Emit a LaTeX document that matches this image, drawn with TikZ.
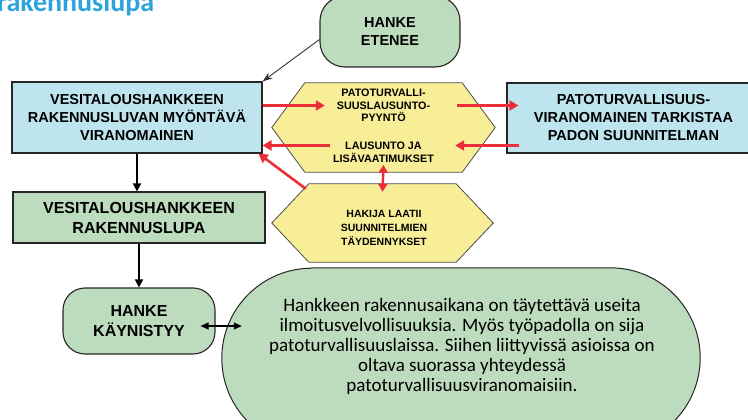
\documentclass[tikz,border=0pt]{standalone}
\usepackage{fontspec}
\setmainfont{Liberation Sans}
\newfontfamily\carl{Carlito}
\usetikzlibrary{arrows.meta,backgrounds,calc}
\definecolor{boxgreen}{RGB}{189,220,190}
\definecolor{boxblue}{RGB}{190,228,238}
\definecolor{hexyellow}{RGB}{249,238,152}
\definecolor{arrred}{RGB}{236,46,56}
\definecolor{titleblue}{RGB}{44,163,221}
\begin{document}
\begin{tikzpicture}[x=1pt,y=-1pt,
  box/.style={draw=black!85, line width=1.1pt, font=\bfseries\fontsize{14.5}{18}\selectfont, align=center, inner sep=0pt},
  bluebox/.style={box, fill=boxblue},
  greenbox/.style={box, fill=boxgreen},
  roundbox/.style={greenbox, rounded corners=22pt},
  bigfont/.style={font=\bfseries\fontsize{16}{20}\selectfont},
  hexframe/.style={inner sep=0pt},
  hexshape/.style={fill=hexyellow, draw=black!70, line width=0.8pt},
  hextext/.style={font=\bfseries\fontsize{10.8}{12.5}\selectfont, align=center, inner sep=1pt},
  stadium/.style={fill=boxgreen, draw=black!85, line width=1pt},
  redarrow/.style={draw=arrred, line width=2.6pt, -{Triangle[length=9pt,width=10pt]}},
  redboth/.style={draw=arrred, line width=2.4pt, {Triangle[length=8pt,width=9pt]}-{Triangle[length=8pt,width=9pt]}},
  blackarrow/.style={draw=black, line width=1.8pt, -{Triangle[length=8pt,width=8pt]}},
  thinarrow/.style={draw=black!80, line width=0.9pt, -{Stealth[length=10pt,width=7pt]}},
  dblarrow/.style={draw=black, line width=1.2pt, {Triangle[length=8pt,width=7pt]}-{Triangle[length=8pt,width=7pt]}},
  thinline/.style={draw=black!80, line width=0.9pt}
]
\useasboundingbox (0,0) rectangle (748,420);

% title (cut off by page edge)
\node[font=\carl\bfseries\fontsize{28}{28}\selectfont, text=titleblue, anchor=base west, inner sep=0pt] (title) at (-3,11.5) {rakennuslupa};

% nodes
\node[greenbox, rounded corners=25pt, minimum width=140pt, minimum height=71pt] (ete) at (390,31.5) {HANKE\\ETENEE};
\coordinate (abovete) at (387,-20);

\node[bluebox, minimum width=250pt, minimum height=71pt] (ves1) at (137,117.5) {VESITALOUSHANKKEEN\\RAKENNUSLUVAN MYÖNTÄVÄ\\VIRANOMAINEN};
\node[bluebox, minimum width=253pt, minimum height=70pt] (bl2) at (633.5,118) {PATOTURVALLISUUS-\\VIRANOMAINEN TARKISTAA\\PADON SUUNNITELMAN};

\node[hexframe, minimum width=223pt, minimum height=89pt] (h1) at (383.5,127.5) {};
\node[hextext] (h1a) at (383.5,105.5) {PATOTURVALLI-\\SUUSLAUSUNTO-\\PYYNTÖ};
\node[hextext] (h1b) at (383.5,152.5) {LAUSUNTO JA\\LISÄVAATIMUKSET};

\node[hexframe, minimum width=221pt, minimum height=78pt] (h2) at (382.5,223) {};
\node[hextext, font=\bfseries\fontsize{10.5}{14}\selectfont] (h2t) at (384,228) {HAKIJA LAATII\\SUUNNITELMIEN\\TÄYDENNYKSET};

\node[greenbox, bigfont, minimum width=252pt, minimum height=51pt] (ves2) at (139,217.5) {VESITALOUSHANKKEEN\\RAKENNUSLUPA};
\node[roundbox, bigfont, minimum width=152pt, minimum height=66pt] (kay) at (139,321) {HANKE\\KÄYNISTYY};

\node[inner sep=0pt, minimum width=478pt, minimum height=180pt] (note) at (461,358) {};
\node[font=\carl\fontsize{19}{20}\selectfont, align=center, inner sep=0pt] (notetext) at (462,346) {Hankkeen rakennusaikana on täytettävä useita\\ilmoitusvelvollisuuksia. Myös työpadolla on sija\\patoturvallisuuslaissa. Siihen liittyvissä asioissa on\\oltava suorassa yhteydessä\\patoturvallisuusviranomaisiin.};

% shapes behind the texts
\begin{scope}[on background layer]
\fill[white] (0,0) rectangle (748,420);
\path[hexshape] (h1.west) -- ([xshift=33pt]h1.north west) -- ([xshift=-33pt]h1.north east) -- (h1.east) -- ([xshift=-33pt]h1.south east) -- ([xshift=33pt]h1.south west) -- cycle;
\path[hexshape] (h2.west) -- ([xshift=37pt]h2.north west) -- ([xshift=-37pt]h2.north east) -- (h2.east) -- ([xshift=-37pt]h2.south east) -- ([xshift=37pt]h2.south west) -- cycle;
\path[stadium] ([xshift=90pt]note.north west) -- ([xshift=-90pt]note.north east)
  arc[start angle=90, end angle=-90, radius=90pt]
  -- ([xshift=90pt]note.south west)
  arc[start angle=270, end angle=90, radius=90pt] -- cycle;
\end{scope}

% connectors
\draw[thinline] (abovete) -- (abovete |- ete.north);
\draw[thinarrow] ([yshift=-8pt]ete.west) -- (ves1.north east);

\draw[redarrow] (ves1.east |- h1a) -- ([xshift=53pt]h1.west |- h1a);
\draw[redarrow] ([xshift=-38pt]h1.east |- h1a) -- ([xshift=12pt]bl2.west |- h1a);
\draw[redarrow] ([xshift=13pt,yshift=7pt]bl2.west |- h1b) -- ([xshift=-40pt,yshift=7pt]h1.east |- h1b);
\draw[redarrow] ([xshift=58pt,yshift=7pt]h1.west |- h1b) -- ([yshift=7pt]ves1.east |- h1b);
\draw[redboth] ([yshift=-1pt]h1b.south) -- ([yshift=-8pt]h2.north);
\draw[redarrow] ([xshift=34pt,yshift=-5pt]h2.north west) -- ([xshift=-4pt]ves1.south east);

\draw[blackarrow] (ves1.south) -- (ves1.south |- ves2.north);
\draw[blackarrow] (ves2.south) -- (ves2.south |- kay.north);
\draw[dblarrow] ([xshift=-15pt,yshift=-5pt]kay.east) -- ([xshift=20pt,yshift=-5pt]kay.east -| note.west);
\end{tikzpicture}
\end{document}
